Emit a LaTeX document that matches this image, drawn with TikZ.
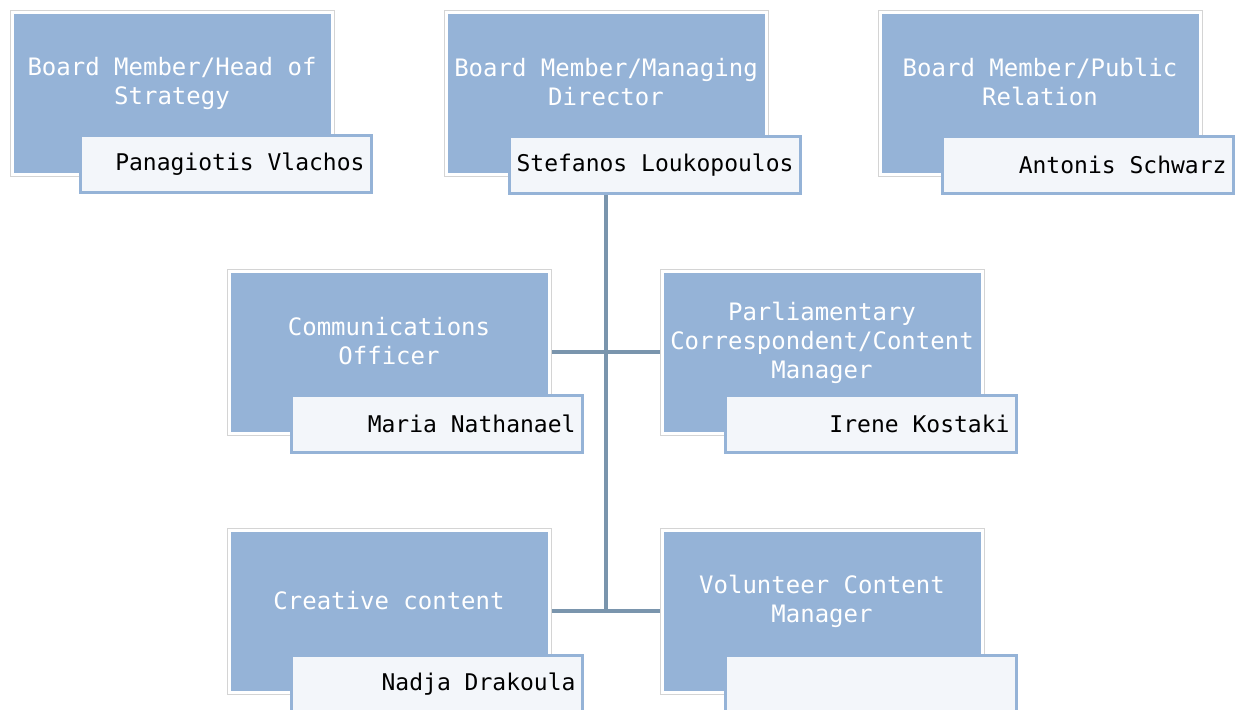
\documentclass[tikz,border=0pt]{standalone}
\usepackage{fontspec}
\setmainfont{DejaVu Sans Mono}
\usetikzlibrary{backgrounds}

\definecolor{boxblue}{HTML}{95B3D7}
\definecolor{namefill}{HTML}{F3F6FA}
\definecolor{linkblue}{HTML}{7A95AD}
\definecolor{framegray}{HTML}{D4D4D4}

\tikzset{
  rolebox/.style={rectangle, fill=boxblue, draw=white, line width=1.5pt,
    minimum width=160pt, minimum height=81pt,
    preaction={draw=framegray, line width=2.5pt}},
  roletext/.style={text=white, align=center, font=\fontsize{12}{14.5}\selectfont},
  namebox/.style={rectangle, fill=namefill, draw=boxblue, line width=1.5pt,
    minimum height=28.5pt, text width=138.5pt, inner xsep=3.5pt,
    execute at begin node={\spaceskip=0pt\xspaceskip=0pt\hfill},
    font=\fontsize{11.5}{14}\selectfont},
  link/.style={draw=linkblue, line width=2pt}
}

\begin{document}
\begin{tikzpicture}[x=0.5pt,y=-0.5pt]

\clip (0,0) rectangle (1236,709);

\node [rolebox] (b1) at (172,93) {};
\node [rolebox] (b2) at (606,93) {};
\node [rolebox] (b3) at (1040,93) {};
\node [rolebox] (b4) at (389,352) {};
\node [rolebox] (b5) at (822,352) {};
\node [rolebox] (b6) at (389,611) {};
\node [rolebox] (b7) at (822,611) {};

\node [roletext] (t1) at (172,83) {Board Member/Head of\\Strategy};
\node [roletext] (t2) at (606,82) {Board Member/Managing\\Director};
\node [roletext] (t3) at (1040,82) {Board Member/Public\\Relation};
\node [roletext] (t4) at (389,341) {Communications\\Officer};
\node [roletext] (t5) at (822,343) {Parliamentary\\Correspondent/Content\\Manager};
\node [roletext] (t6) at (389,601) {Creative content};
\node [roletext] (t7) at (822,601) {Volunteer Content\\Manager};

\node [namebox] (n1) at (226,164) {Panagiotis Vlachos};
\node [namebox] (n2) at (655,165) {Stefanos Loukopoulos};
\node [namebox] (n3) at (1088,165) {Antonis Schwarz};
\node [namebox] (n4) at (437,424) {Maria Nathanael};
\node [namebox] (n5) at (871,424) {Irene Kostaki};
\node [namebox] (n6) at (437,684) {Nadja Drakoula};
\node [namebox] (n7) at (871,684) {};

% connectors behind the boxes
\begin{scope}[on background layer]
\draw [link] (b2) -- (b2 |- b6);
\draw [link] (b4) -- (b5);
\draw [link] (b6) -- (b7);
\end{scope}

\end{tikzpicture}
\end{document}
